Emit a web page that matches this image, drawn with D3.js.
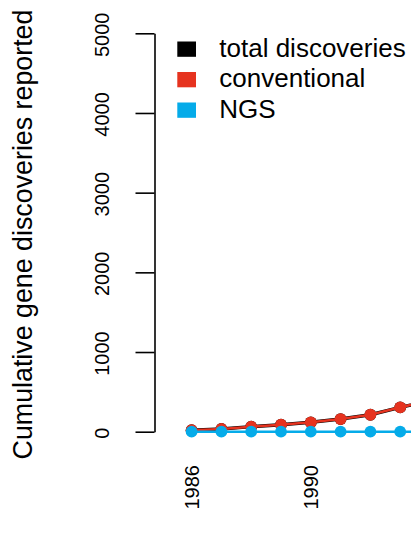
<!DOCTYPE html>
<html>
<head>
<meta charset="utf-8">
<script src="https://cdn.jsdelivr.net/npm/d3@7"></script>
<style>
  html, body { margin: 0; padding: 0; background: #fff; }
  svg { display: block; }
  text { font-family: "Liberation Sans", Arial, Helvetica, sans-serif; fill: #000; }
</style>
</head>
<body>
<svg id="chart" width="411" height="555"></svg>
<script>
// ---- data ----
const years = [1986, 1987, 1988, 1989, 1990, 1991, 1992, 1993, 1994];
const totalDiscoveries = [18, 34, 63, 88, 118, 159, 213, 306, 390];
const conventional = [18, 34, 63, 88, 118, 159, 213, 306, 390];
const ngs = [0, 0, 0, 0, 0, 0, 0, 0, 0];
const yTicks = [0, 1000, 2000, 3000, 4000, 5000];
const xTickLabels = [1986, 1990];
const seriesNames = ["total discoveries", "conventional", "NGS"];
const seriesColors = ["#000000", "#E6331F", "#05ABE9"];

const svg = d3.select("#chart");

const x = d3.scaleLinear().domain([1986, 1994]).range([191.6, 191.6 + 8 * 29.8]);
const y = d3.scaleLinear().domain([0, 5000]).range([431.7, 33.3]);

// y axis
const yAxis = d3.axisLeft(y).tickValues(yTicks).tickSize(19).tickSizeOuter(0).tickFormat("");
const gy = svg.append("g").attr("transform", "translate(154.5,0)").call(yAxis);
gy.select(".domain").attr("stroke", "#000").attr("stroke-width", 1.6);
gy.selectAll(".tick line").attr("stroke", "#000").attr("stroke-width", 1.6);

svg.append("g").selectAll("text").data(yTicks).join("text")
  .attr("transform", d => `translate(108.5,${y(d) + 1.5}) rotate(-90)`)
  .attr("text-anchor", "middle")
  .style("font-size", "20px")
  .text(d => d);

// x labels (no axis line)
svg.append("g").selectAll("text").data(xTickLabels).join("text")
  .attr("transform", d => `translate(${x(d)},465) rotate(-90)`)
  .attr("text-anchor", "end")
  .attr("dy", "0.37em")
  .style("font-size", "20px")
  .text(d => d);

// y title
svg.append("text")
  .attr("transform", "translate(32,234.5) rotate(-90)")
  .attr("text-anchor", "middle")
  .style("font-size", "26.8px")
  .text("Cumulative gene discoveries reported");

// series
const series = [
  { name: seriesNames[0], values: totalDiscoveries, color: seriesColors[0], w: 3.4 },
  { name: seriesNames[1], values: conventional, color: seriesColors[1], w: 2.6 },
  { name: seriesNames[2], values: ngs, color: seriesColors[2], w: 2.6 }
];
const line = d3.line().x((d, i) => x(years[i])).y(d => y(d));

series.forEach(s => {
  const g = svg.append("g");
  g.append("path").datum(s.values)
    .attr("d", line).attr("fill", "none")
    .attr("stroke", s.color).attr("stroke-width", s.w);
  g.selectAll("circle").data(s.values).join("circle")
    .attr("cx", (d, i) => x(years[i])).attr("cy", d => y(d))
    .attr("r", 5.9).attr("fill", s.color);
});

// legend
const leg = svg.append("g");
seriesNames.forEach((n, i) => {
  leg.append("rect")
    .attr("x", 177.3).attr("y", 41.5 + i * 30.5)
    .attr("width", 18.7).attr("height", 15.3)
    .attr("fill", seriesColors[i]);
  leg.append("text")
    .attr("x", 219.3).attr("y", 56.7 + i * 30.5)
    .style("font-size", "26px")
    .text(n);
});
</script>
</body>
</html>
